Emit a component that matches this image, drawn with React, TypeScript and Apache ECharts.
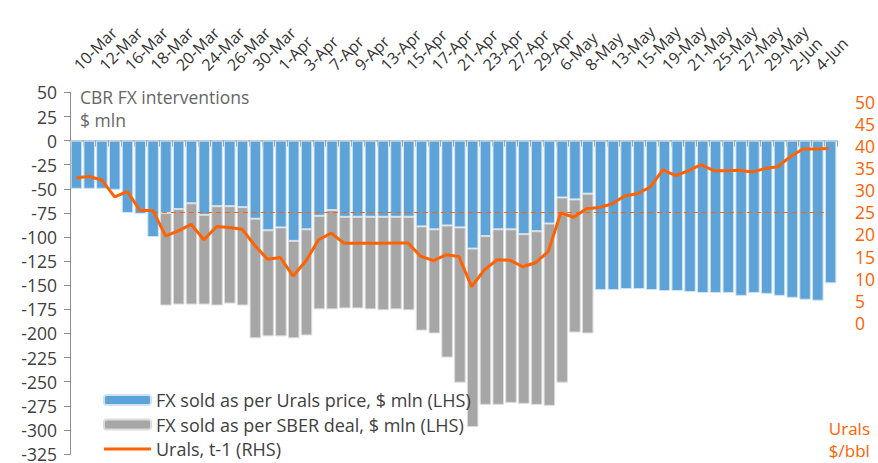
import React, { useEffect, useRef } from "react";
import * as echarts from "echarts";

const dates = [
  "10-Mar", "11-Mar", "12-Mar", "13-Mar", "16-Mar", "17-Mar", "18-Mar", "19-Mar", "20-Mar", "23-Mar",
  "24-Mar", "25-Mar", "26-Mar", "27-Mar", "30-Mar", "31-Mar", "1-Apr", "2-Apr", "3-Apr", "6-Apr",
  "7-Apr", "8-Apr", "9-Apr", "10-Apr", "13-Apr", "14-Apr", "15-Apr", "16-Apr", "17-Apr", "20-Apr",
  "21-Apr", "22-Apr", "23-Apr", "24-Apr", "27-Apr", "28-Apr", "29-Apr", "30-Apr", "6-May", "7-May",
  "8-May", "12-May", "13-May", "14-May", "15-May", "18-May", "19-May", "20-May", "21-May", "22-May",
  "25-May", "26-May", "27-May", "28-May", "29-May", "1-Jun", "2-Jun", "3-Jun", "4-Jun", "5-Jun",
];

// FX sold as per Urals price, $ mln (LHS)
const fxUrals = [
  -50, -50, -50, -51, -75, -76, -100, -75, -71, -65,
  -77, -68, -68, -69, -81, -93, -90, -104, -92, -78,
  -72, -79, -79, -79, -79, -79, -79, -89, -92, -88,
  -90, -112, -99, -92, -92, -97, -94, -86, -59, -61,
  -55, -155, -155, -154, -154, -155, -156, -156, -157, -158,
  -158, -158, -161, -158, -159, -161, -163, -165, -166, -148,
];

// FX sold as per SBER deal, $ mln (LHS) (stacked below the Urals part)
const fxSber = [
  null, null, null, null, null, null, null, -96, -99, -105,
  -93, -103, -101, -102, -124, -110, -113, -101, -110, -97,
  -103, -95, -95, -96, -97, -96, -97, -108, -108, -137,
  -161, -185, -175, -182, -180, -176, -180, -189, -192, -138,
  -145, null, null, null, null, null, null, null, null, null,
  null, null, null, null, null, null, null, null, null, null,
];

// Urals, t-1 (RHS), $/bbl
const urals = [
  32.8, 33.1, 32.3, 28.5, 29.7, 25.4, 25.4, 19.7, 20.8, 22.3,
  18.8, 21.8, 21.6, 21.2, 17.5, 14.4, 14.8, 10.6, 14.0, 18.8,
  20.3, 18.0, 18.0, 18.0, 18.0, 18.1, 18.1, 15.1, 14.1, 15.4,
  15.0, 8.2, 12.0, 14.3, 14.2, 12.7, 13.6, 16.1, 24.9, 23.9,
  25.8, 26.1, 26.9, 28.7, 29.2, 30.7, 34.6, 33.3, 34.4, 35.8,
  34.4, 34.4, 34.5, 34.1, 34.9, 35.3, 37.6, 39.3, 39.3, 39.4,
];

const budgetRuleLevel = 25;
const budgetRuleStart = "18-Mar";
const budgetRuleEnd = "5-Jun";

const seriesNames = [
  "FX sold as per Urals price, $ mln (LHS)",
  "FX sold as per SBER deal, $ mln (LHS)",
  "Urals, t-1 (RHS)",
];

const BLUE = "#5ea3d8";
const GREY = "#a6a6a6";
const ORANGE = "#ff6200";
const FONT = "Open Sans";

export default function App() {
  const ref = useRef<HTMLDivElement>(null);

  useEffect(() => {
    if (!ref.current) return;
    const chart = echarts.init(ref.current, null, { renderer: "svg" });
    const gridLeft = 70;
    const gridRight = 41;
    chart.setOption({
      animation: false,
      backgroundColor: "#ffffff",
      textStyle: { fontFamily: FONT },
      title: [
        {
          text: "CBR FX interventions\n$ mln",
          left: 80,
          top: 86,
          padding: 0,
          textStyle: { fontSize: 17.5, lineHeight: 22.5, fontWeight: "normal", color: "#666666", fontFamily: FONT },
        },
        {
          text: "Urals\n$/bbl",
          right: 8,
          top: 417,
          padding: 0,
          textStyle: { fontSize: 17, lineHeight: 22, fontWeight: "normal", color: ORANGE, fontFamily: FONT, align: "right" },
        },
      ],
      legend: {
        orient: "vertical",
        left: 103,
        top: 391,
        height: 80,
        padding: 0,
        itemWidth: 47,
        itemHeight: 10,
        itemGap: 6.5,
        textStyle: { fontSize: 18, lineHeight: 18, color: "#404040", fontFamily: FONT },
        data: [
          { name: seriesNames[0] },
          { name: seriesNames[1] },
          { name: seriesNames[2], icon: "path://M0,0M0,10M0,3.6H47V6.4H0Z" },
        ],
      },
      grid: [
        { left: gridLeft, right: gridRight, top: 92.4, bottom: 3.6 },
        { left: gridLeft, right: gridRight, top: 101.7, height: 221.3 },
      ],
      xAxis: [
        {
          type: "category",
          gridIndex: 0,
          position: "top",
          data: dates,
          axisLine: { show: false, onZero: false },
          axisTick: { show: false },
          axisLabel: { interval: 1, rotate: -45, margin: 25, fontSize: 16, color: "#333333", fontFamily: FONT },
        },
        {
          type: "category",
          gridIndex: 0,
          position: "bottom",
          data: dates,
          axisLine: { show: true, onZero: true, onZeroAxisIndex: 0, lineStyle: { color: "#a6a6a6", width: 1.5 } },
          axisTick: { show: true, interval: 0, length: 6, lineStyle: { color: "#a6a6a6", width: 1 } },
          axisLabel: { show: false },
        },
        {
          type: "category",
          gridIndex: 1,
          data: dates,
          show: false,
        },
      ],
      yAxis: [
        {
          type: "value",
          gridIndex: 0,
          min: -325,
          max: 50,
          interval: 25,
          axisLine: { show: true, lineStyle: { color: "#8c8c8c", width: 1 } },
          axisTick: { show: true, length: 6, lineStyle: { color: "#8c8c8c" } },
          splitLine: { show: false },
          axisLabel: { fontSize: 17.5, color: "#404040", margin: 13, fontFamily: FONT },
        },
        {
          type: "value",
          gridIndex: 1,
          position: "right",
          min: 0,
          max: 50,
          interval: 5,
          axisLine: { show: false },
          axisTick: { show: false },
          splitLine: { show: false },
          axisLabel: { fontSize: 17.5, color: ORANGE, margin: 20, fontFamily: FONT },
        },
      ],
      series: [
        {
          name: seriesNames[0],
          type: "bar",
          xAxisIndex: 0,
          yAxisIndex: 0,
          stack: "fx",
          data: fxUrals,
          barCategoryGap: "10%",
          itemStyle: { color: BLUE, borderColor: "#cfe3f4", borderWidth: 1 },
        },
        {
          name: seriesNames[1],
          type: "bar",
          xAxisIndex: 0,
          yAxisIndex: 0,
          stack: "fx",
          data: fxSber,
          barCategoryGap: "10%",
          itemStyle: { color: GREY, borderColor: "#dcdcdc", borderWidth: 1 },
        },
        {
          name: seriesNames[2],
          type: "line",
          xAxisIndex: 2,
          yAxisIndex: 1,
          data: urals,
          symbol: "none",
          lineStyle: { color: ORANGE, width: 3 },
          itemStyle: { color: ORANGE },
          z: 5,
          markLine: {
            silent: true,
            symbol: ["none", "none"],
            label: { show: false },
            lineStyle: { color: ORANGE, type: [5, 4], width: 1.2 },
            data: [[{ coord: [budgetRuleStart, budgetRuleLevel] }, { coord: [budgetRuleEnd, budgetRuleLevel] }]],
          },
        },
      ],
    });
    return () => chart.dispose();
  }, []);

  return (
    <div
      ref={ref}
      style={{ position: "fixed", left: 0, top: 0, width: 878, height: 463, background: "#fff" }}
    />
  );
}
